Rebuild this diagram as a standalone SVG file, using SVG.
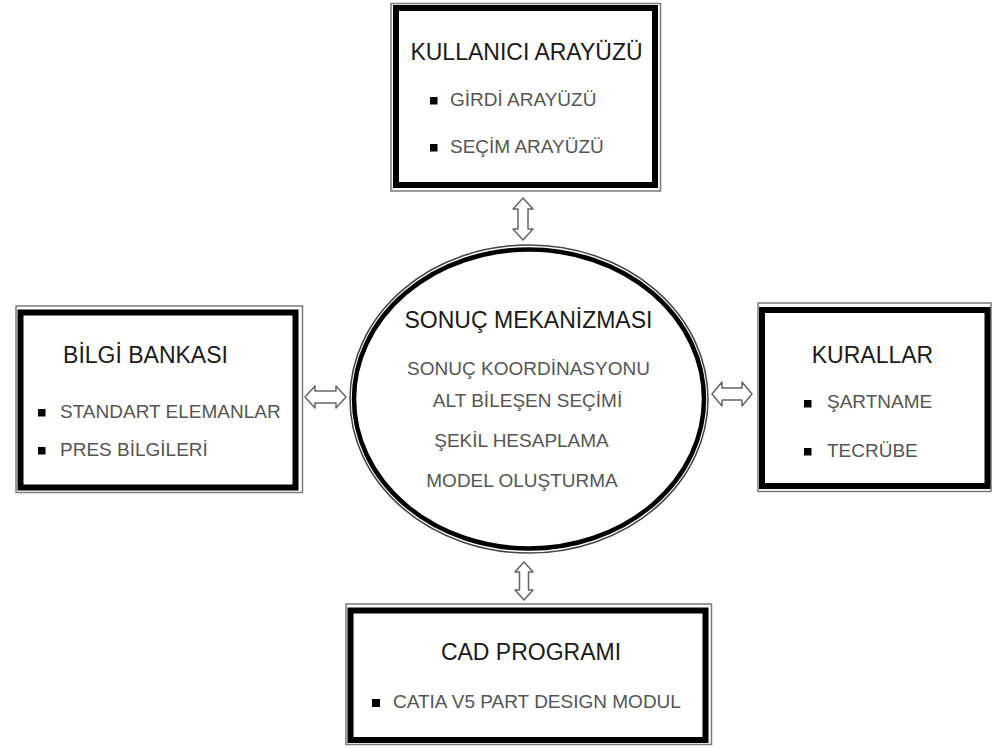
<svg xmlns="http://www.w3.org/2000/svg" width="993" height="749" viewBox="0 0 993 749">
<style>
.outer{fill:none;stroke:#7a7a7a;stroke-width:1.5}
.inner{fill:#fff;stroke:#000;stroke-width:6}
.title{font-family:"Liberation Sans",Arial,sans-serif;font-size:23px;fill:#1a1a1a}
.item{font-family:"Liberation Sans",Arial,sans-serif;font-size:19px;fill:#555}
.bullet{fill:#000}
.arrow{fill:#fff;stroke:#666;stroke-width:1.5;stroke-linejoin:round}
</style>
<rect width="993" height="749" fill="#fff"/>
<g id="kullanici-arayuzu">
<rect class="outer" x="391" y="3.5" width="269.5" height="187.5"/>
<rect class="inner" x="396" y="8" width="259" height="177"/>
<text class="title" x="526.5" y="60" text-anchor="middle">KULLANICI ARAYÜZÜ</text>
<rect class="bullet" x="430" y="97" width="7.5" height="7.5"/>
<text class="item" x="450" y="106">GİRDİ ARAYÜZÜ</text>
<rect class="bullet" x="430" y="144" width="7.5" height="7.5"/>
<text class="item" x="450" y="153">SEÇİM ARAYÜZÜ</text>
</g>
<g id="bilgi-bankasi">
<rect class="outer" x="16" y="306" width="286.5" height="186.5"/>
<rect class="inner" x="20.5" y="312.5" width="275" height="175"/>
<text class="title" x="145.5" y="363" text-anchor="middle">BİLGİ BANKASI</text>
<rect class="bullet" x="38" y="409" width="7.5" height="7.5"/>
<text class="item" x="60" y="418">STANDART ELEMANLAR</text>
<rect class="bullet" x="38" y="447" width="7.5" height="7.5"/>
<text class="item" x="60" y="456">PRES BİLGİLERİ</text>
</g>
<g id="kurallar">
<rect class="outer" x="758" y="303" width="233" height="188.5"/>
<rect class="inner" x="762" y="310" width="225.5" height="176"/>
<text class="title" x="872.5" y="363" text-anchor="middle">KURALLAR</text>
<rect class="bullet" x="804" y="400" width="7.5" height="7.5"/>
<text class="item" x="827" y="408">ŞARTNAME</text>
<rect class="bullet" x="804" y="448" width="7.5" height="7.5"/>
<text class="item" x="827" y="457">TECRÜBE</text>
</g>
<g id="cad-programi">
<rect class="outer" x="346" y="604" width="365.5" height="140.5"/>
<rect class="inner" x="350.5" y="610.5" width="355" height="129.5"/>
<text class="title" x="531" y="660" text-anchor="middle">CAD PROGRAMI</text>
<rect class="bullet" x="372" y="699" width="8" height="8"/>
<text class="item" x="393" y="708">CATIA V5 PART DESIGN MODUL</text>
</g>
<g id="sonuc-mekanizmasi">
<ellipse cx="529" cy="399" rx="179" ry="154" fill="#fff" stroke="#444" stroke-width="1.5"/>
<ellipse cx="529" cy="399" rx="175" ry="149.5" fill="none" stroke="#000" stroke-width="4.5"/>
<text class="title" x="528.5" y="328" text-anchor="middle">SONUÇ MEKANİZMASI</text>
<text class="item" x="528.5" y="375" text-anchor="middle">SONUÇ KOORDİNASYONU</text>
<text class="item" x="527.5" y="407" text-anchor="middle">ALT BİLEŞEN SEÇİMİ</text>
<text class="item" x="521.5" y="447" text-anchor="middle">ŞEKİL HESAPLAMA</text>
<text class="item" x="522" y="487" text-anchor="middle">MODEL OLUŞTURMA</text>
</g>
<g id="connectors">
<polygon class="arrow" points="523,198 533,209 528,209 528,229 533,229 523,240 513,229 518,229 518,209 513,209"/>
<polygon class="arrow" points="524,562 533,572 528.5,572 528.5,590 533,590 524,600 515,590 519.5,590 519.5,572 515,572"/>
<polygon class="arrow" points="305,397 315,386 315,391 336,391 336,386 346,397 336,408 336,403 315,403 315,408"/>
<polygon class="arrow" points="712,394 722,382 722,388 742,388 742,382 752,394 742,406 742,400 722,400 722,406"/>
</g>
</svg>
